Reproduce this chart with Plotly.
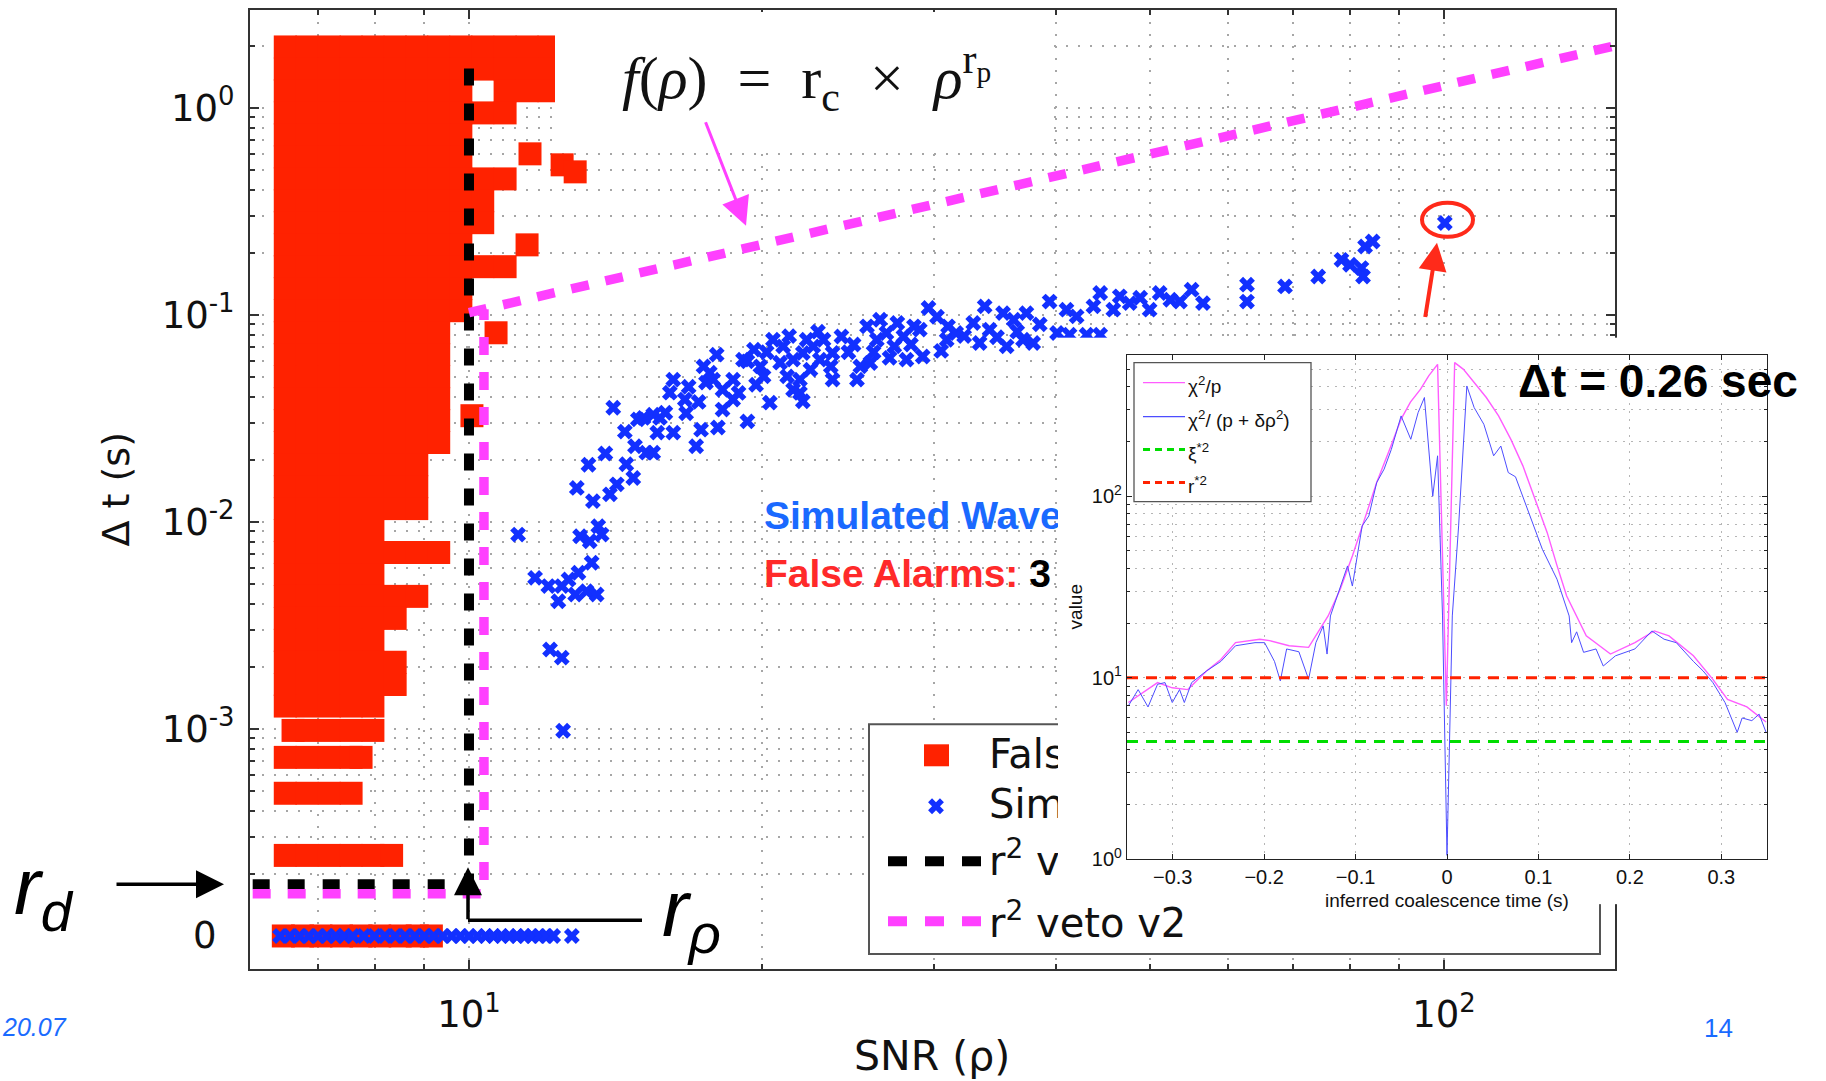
import math
import plotly.graph_objects as go

W, H = 1826, 1081
YS = 1081 / 1071   # the rendered figure comes out ~10 px shorter; stretch the layout to compensate

# ------------------------------------------------------------------ data
# False alarms (red squares): rows of the dense cloud (Δt value, list of SNR values)
FA_ROW_Y = [1.97, 1.54, 1.21, 0.946, 0.741, 0.580, 0.454, 0.356, 0.279, 0.218,
            0.171, 0.134, 0.1048, 0.0820, 0.0643, 0.0503, 0.0394, 0.0309, 0.0242,
            0.0189, 0.0148, 0.0116, 0.00909, 0.00712, 0.00557, 0.00437, 0.00342,
            0.00268, 0.00210, 0.00164, 0.00129, 0.000984, 0.000729, 0.000489, 0.000245]
FA_ROW_X = [
    [6.48, 6.82, 7.19, 7.57, 7.97, 8.40, 8.84, 9.31, 9.81, 10.33, 10.89, 11.47, 12.08],
    [6.48, 6.82, 7.19, 7.57, 7.97, 8.40, 8.84, 9.31, 9.81, 10.33, 10.89, 11.47, 12.08],
    [6.48, 6.82, 7.19, 7.57, 7.97, 8.40, 8.84, 9.31, 9.81, 10.89, 11.47, 12.08],
    [6.48, 6.82, 7.19, 7.57, 7.97, 8.40, 8.84, 9.31, 9.81, 10.33, 10.89],
    [6.48, 6.82, 7.19, 7.57, 7.97, 8.40, 8.84, 9.31, 9.81],
    [6.48, 6.82, 7.19, 7.57, 7.97, 8.40, 8.84, 9.31, 9.81],
    [6.48, 6.82, 7.19, 7.57, 7.97, 8.40, 8.84, 9.31, 9.81, 10.33, 10.89],
    [6.48, 6.82, 7.19, 7.57, 7.97, 8.40, 8.84, 9.31, 9.81, 10.33],
    [6.48, 6.82, 7.19, 7.57, 7.97, 8.40, 8.84, 9.31, 9.81, 10.33],
    [6.48, 6.82, 7.19, 7.57, 7.97, 8.40, 8.84, 9.31, 9.81, 11.47],
    [6.48, 6.82, 7.19, 7.57, 7.97, 8.40, 8.84, 9.31, 9.81, 10.33, 10.89],
    [6.48, 6.82, 7.19, 7.57, 7.97, 8.40, 8.84, 9.31, 9.81],
    [6.48, 6.82, 7.19, 7.57, 7.97, 8.40, 8.84, 9.31, 9.81],
    [6.48, 6.82, 7.19, 7.57, 7.97, 8.40, 8.84, 9.31, 10.66],
    [6.48, 6.82, 7.19, 7.57, 7.97, 8.40, 8.84, 9.31],
    [6.48, 6.82, 7.19, 7.57, 7.97, 8.40, 8.84, 9.31],
    [6.48, 6.82, 7.19, 7.57, 7.97, 8.40, 8.84, 9.31],
    [6.48, 6.82, 7.19, 7.57, 7.97, 8.40, 8.84, 9.31],
    [6.48, 6.82, 7.19, 7.57, 7.97, 8.40, 8.84, 9.31],
    [6.48, 6.82, 7.19, 7.57, 7.97, 8.40, 8.84],
    [6.48, 6.82, 7.19, 7.57, 7.97, 8.40, 8.84],
    [6.48, 6.82, 7.19, 7.57, 7.97, 8.40, 8.84],
    [6.48, 6.82, 7.19, 7.57, 7.97],
    [6.48, 6.82, 7.19, 7.57, 7.97, 8.40, 8.84, 9.31],
    [6.48, 6.82, 7.19, 7.57, 7.97],
    [6.48, 6.82, 7.19, 7.57, 7.97, 8.40, 8.84],
    [6.48, 6.82, 7.19, 7.57, 7.97, 8.40],
    [6.48, 6.82, 7.19, 7.57, 7.97],
    [6.48, 6.82, 7.19, 7.57, 7.97, 8.40],
    [6.48, 6.82, 7.19, 7.57, 7.97, 8.40],
    [6.48, 6.82, 7.19, 7.57, 7.97],
    [6.60, 6.82, 7.19, 7.57, 7.97],
    [6.48, 6.82, 7.19, 7.57, 7.75],
    [6.48, 6.82, 7.19, 7.57],
    [6.48, 6.82, 7.19, 7.57, 7.97, 8.33],
]
FA_EXTRA_X = [11.55, 12.46, 12.85, 10.07]
FA_EXTRA_Y = [0.600, 0.531, 0.491, 0.0326]
FA_ZERO_X = [6.45, 6.75, 7.05, 7.4, 7.75, 8.1, 8.5, 8.85, 9.15]

# Simulated waveforms (blue crosses)
SIM_X = [14.06, 14.45, 14.8, 15.2, 15.45, 15.1, 15.45, 15.9, 16.2, 16.07, 16.65, 16.2,
         17.1, 17.3, 18.0, 18.2, 19.3, 17.66, 17.5, 17.95, 18.66, 19.1, 18.66, 20.5,
         20.35, 20.85, 13.8, 13.26, 12.9, 13.4, 13.95, 14.18, 14.74, 11.23, 13.0, 13.3,
         13.57, 13.68, 13.36, 11.69, 12.06, 12.35, 12.65, 12.85, 12.95, 13.2, 13.52,
         12.45, 12.11, 12.45, 12.49, 20.05, 19.9, 17.4, 17.8, 19.3, 18.2, 16.7, 15.7,
         14.9, 21.85, 22.2,
         21.0, 21.5, 22.0, 22.55, 23.1, 23.6, 21.2, 21.85, 22.4, 22.9, 23.5, 23.6,
         22.0, 21.5, 24.1, 25.2, 25.0, 25.8, 25.6, 26.4, 26.2, 26.8, 27.5, 27.3, 27.9,
         28.1, 28.6, 29.2, 29.0, 29.6, 31.0, 30.9, 31.6, 32.9, 33.8, 33.4, 34.2, 35.3,
         36.2, 37.3, 35.6, 37.0, 37.9, 39.4, 41.0, 42.0, 43.7, 44.4, 40.1,
         45.8, 46.5, 47.6, 48.8, 49.9, 51.1, 52.4, 53.6, 55.1, 56.6, 41.3, 43.0, 44.4,
         62.8, 62.8, 68.7, 74.3, 78.5, 80.1, 82.3, 82.6, 83.0, 84.5, 100.2,
         19.6, 20.2, 21.3, 22.8, 24.5, 24.8, 26.0, 27.0, 28.4, 30.2, 30.5, 32.2, 34.8,
         36.5, 38.5, 16.8, 17.2, 18.9, 19.7, 15.6, 14.5]
SIM_Y = [0.0356, 0.0273, 0.0232, 0.0216, 0.0216, 0.0318, 0.033, 0.0337, 0.0487, 0.0421,
         0.039, 0.027, 0.0232, 0.0279, 0.0286, 0.0349, 0.0306, 0.0526, 0.0471, 0.0643,
         0.0487, 0.0608, 0.039, 0.0759, 0.0377, 0.0588, 0.0214, 0.0189, 0.0146, 0.0126,
         0.0136, 0.0152, 0.0163, 0.00869, 0.00853, 0.00807, 0.00953, 0.00869, 0.00635,
         0.00537, 0.0049, 0.00414, 0.00527, 0.00446, 0.00568, 0.00463, 0.00446, 0.0049,
         0.00242, 0.00221, 0.00098, 0.0505, 0.0564, 0.0564, 0.0487, 0.0597, 0.0435,
         0.0335, 0.0318, 0.0313, 0.042, 0.0759,
         0.0705, 0.0608, 0.0655, 0.0705, 0.0759, 0.0655, 0.0505, 0.0487, 0.0544, 0.0608,
         0.0564, 0.0487, 0.0383, 0.0435, 0.0787, 0.0564, 0.0487, 0.0586, 0.0881, 0.0948,
         0.0759, 0.0818, 0.0914, 0.0705, 0.0787, 0.0608, 0.0881, 0.063, 0.0849, 0.108,
         0.0881, 0.0759, 0.0818, 0.0914, 0.11, 0.0732, 0.0849, 0.102, 0.0948, 0.102,
         0.0705, 0.0759, 0.0732, 0.116, 0.106, 0.0984, 0.11, 0.1276, 0.0818,
         0.106, 0.123, 0.114, 0.121, 0.106, 0.1276, 0.1184, 0.116, 0.1324, 0.114, 0.0802,
         0.0802, 0.0802, 0.14, 0.116, 0.1373, 0.1533, 0.1846, 0.1747, 0.1684, 0.1533,
         0.214, 0.2263, 0.278,
         0.068, 0.066, 0.079, 0.083, 0.066, 0.072, 0.066, 0.062, 0.072, 0.098, 0.067,
         0.079, 0.078, 0.083, 0.09, 0.045, 0.038, 0.042, 0.046, 0.027, 0.019]
SIM_ZERO_X = [6.4, 6.55, 6.7, 6.85, 7.0, 7.15, 7.3, 7.45, 7.6, 7.8, 8.0, 8.2, 8.4, 8.6,
              8.8, 9.0, 9.2, 9.4, 9.6, 9.8, 10.0, 10.2, 10.4, 10.6, 10.8, 11.0, 11.2,
              11.4, 11.6, 11.8, 12.0, 12.2, 12.75]
ZERO_LEVEL = 1e-4          # where Δt = 0 is drawn on the log axis

# veto thresholds
RHO_LO, RHO_HI = 6.0, 150.0
R_D_V1, R_RHO_V1, V1_TOP = 1.78e-4, 10.0, 1.75
R_D_V2, R_RHO_V2 = 1.6e-4, 10.36
R_C, R_P = 0.0082, 1.097

X_TICKS = [10, 100]
X_TICKTEXT = ["10<sup>1</sup>", "10<sup>2</sup>"]
Y_TICKS = [1e-3, 1e-2, 1e-1, 1]
Y_TICKTEXT = ["10<sup>-3</sup>", "10<sup>-2</sup>", "10<sup>-1</sup>", "10<sup>0</sup>"]

# inset: statistic versus inferred coalescence time
T_PINK = [-0.3485, -0.3166, -0.3005, -0.2835, -0.263, -0.2473, -0.2313, -0.2047, -0.194,
          -0.1727, -0.1514, -0.146, -0.130, -0.1168, -0.1035, -0.09, -0.0769, -0.063,
          -0.0502, -0.04, -0.0289, -0.02, -0.0103, -0.0007, 0.0084, 0.018, 0.0297, 0.043,
          0.0564, 0.07, 0.083, 0.096, 0.1096, 0.12, 0.1309, 0.1523, 0.1788, 0.2055,
          0.2268, 0.2428, 0.2695, 0.2908, 0.3068, 0.328, 0.349]
V_PINK = [7.3, 9.4, 8.8, 8.6, 10.9, 12.6, 15.6, 16.3, 16.0, 15.0, 14.7, 16.3, 21.9, 30.7,
          46.9, 75, 119, 180, 266, 330, 389, 460, 533, 7.0, 545, 500, 423, 350, 277, 205,
          147, 97, 63, 42, 28.2, 17.0, 13.5, 15.6, 18.1, 17.0, 13.2, 9.8, 7.6, 6.9, 5.7]
T_BLUE = [-0.3485, -0.3378, -0.327, -0.3166, -0.3084, -0.3005, -0.2925, -0.2873, -0.2793,
          -0.263, -0.2473, -0.2313, -0.21, -0.1995, -0.1887, -0.1823, -0.1754, -0.162,
          -0.1514, -0.1434, -0.1354, -0.1312, -0.1275, -0.1088, -0.1035, -0.0928, -0.0855,
          -0.0769, -0.0688, -0.0609, -0.0502, -0.0396, -0.0316, -0.0247, -0.0156,
          -0.0103, -0.0049, 0.0, 0.0058, 0.0127, 0.0217, 0.0297, 0.0403, 0.051, 0.0589,
          0.067, 0.0749, 0.0883, 0.1043, 0.1203, 0.1336, 0.1363, 0.1418, 0.1494, 0.163,
          0.1709, 0.1842, 0.2055, 0.2241, 0.2374, 0.2508, 0.2695, 0.2801, 0.2908, 0.3041,
          0.3174, 0.3228, 0.3334, 0.3414, 0.349]
V_BLUE = [7.0, 8.6, 6.9, 9.2, 9.4, 7.3, 8.6, 7.3, 9.4, 10.9, 12.3, 15.0, 15.6, 15.6, 12.3,
          9.6, 14.4, 13.9, 9.8, 15.6, 19.3, 13.5, 21.9, 41.3, 32.0, 68.6, 77.9, 119, 141,
          181, 277, 206, 289, 350, 100, 167, 21.9, 1.05, 21.9, 68.6, 405, 308, 249, 167,
          189, 135, 128, 84.8, 51, 34.9, 21.9, 15.6, 17.9, 13.8, 14.4, 11.6, 13.2, 14.4,
          18.1, 16.3, 15.6, 12.3, 10.9, 9.4, 7.3, 5.0, 6.0, 5.8, 6.3, 5.0]
XI2_LEVEL = 4.45
R2_LEVEL = 10.0
INSET_T_RANGE = [-0.35, 0.35]
INSET_X_TICKS = [-0.3, -0.2, -0.1, 0, 0.1, 0.2, 0.3]
INSET_X_TICKTEXT = ["\u22120.3", "\u22120.2", "\u22120.1", "0", "0.1", "0.2", "0.3"]
INSET_Y_TICKS = [1, 10, 100]
INSET_Y_TICKTEXT = ["10<sup>0</sup>", "10<sup>1</sup>", "10<sup>2</sup>"]

# ------------------------------------------------------------------ layout geometry (pixels)
MAIN_L, MAIN_R, MAIN_T, MAIN_B = 250, 1615, 10, 970
XLOG = (0.7754, 2.1754)
YLOG = (-4.160, 0.473)
PANEL_L, PANEL_T, PANEL_B = 1058, 338, 905
IN_L, IN_R, IN_T, IN_B = 1127, 1767, 355, 860
IN_YLOG = (0.0, 2.78)

RED = "#ff2200"
BLUE = "#1230ff"
MAGENTA = "#ff40ff"
GRID = "#a6a6a6"
SANS = "DejaVu Sans"
BOLD = "Liberation Sans"


def pxx(p):
    return p / W


def pxy(p):
    return 1 - p * YS / H


def mx(p):  # pixel -> SNR value on the main axis
    return 10 ** (XLOG[0] + (p - MAIN_L) / (MAIN_R - MAIN_L) * (XLOG[1] - XLOG[0]))


def my(p):  # pixel -> Δt value on the main axis
    return 10 ** (YLOG[1] - (p - MAIN_T) / (MAIN_B - MAIN_T) * (YLOG[1] - YLOG[0]))


def minor_log(lo_exp, hi_exp, lo=None, hi=None):
    vals = []
    for e in range(lo_exp, hi_exp + 1):
        for m in range(2, 10):
            v = m * 10 ** e
            if (lo is None or v >= lo) and (hi is None or v <= hi):
                vals.append(v)
    return vals


fig = go.Figure()

# ------------------------------------------------------------------ main plot traces
fa_x = [x for row in FA_ROW_X for x in row] + FA_EXTRA_X + FA_ZERO_X
fa_y = ([y for y, row in zip(FA_ROW_Y, FA_ROW_X) for _ in row] + FA_EXTRA_Y
        + [ZERO_LEVEL] * len(FA_ZERO_X))
fig.add_trace(go.Scatter(x=fa_x, y=fa_y, mode="markers", name="False Alarms",
                         marker=dict(symbol="square", size=23, color=RED, line=dict(width=0)),
                         hoverinfo="skip"))
fig.add_trace(go.Scatter(x=SIM_X + SIM_ZERO_X, y=SIM_Y + [ZERO_LEVEL] * len(SIM_ZERO_X),
                         mode="markers", name="Simulated Waveforms",
                         marker=dict(symbol="x", size=14, color=BLUE, line=dict(width=0)),
                         hoverinfo="skip"))


def f_veto(rho):
    return R_C * rho ** R_P


fig.add_trace(go.Scatter(x=[RHO_LO, R_RHO_V1, R_RHO_V1], y=[R_D_V1, R_D_V1, V1_TOP],
                         mode="lines", name="r2 veto v1",
                         line=dict(color="black", width=10, dash="17px,18px"), hoverinfo="skip"))
fig.add_trace(go.Scatter(x=[RHO_LO, R_RHO_V2, R_RHO_V2, None, R_RHO_V1, RHO_HI],
                         y=[R_D_V2, R_D_V2, f_veto(R_RHO_V2), None, f_veto(R_RHO_V1), f_veto(RHO_HI)],
                         mode="lines", name="r2 veto v2", connectgaps=False,
                         line=dict(color=MAGENTA, width=9.5, dash="18px,17px"), hoverinfo="skip"))

# texts living inside the main plot (partly hidden by the inset panel)
fig.add_trace(go.Scatter(
    x=[mx(764), mx(764)], y=[my(520), my(578)], mode="text", textposition="middle right",
    text=["<b>Simulated Waveforms</b>",
          "<b>False Alarms: <span style='color:#000000'>3</span></b>"],
    textfont=dict(family=BOLD, size=39, color=["#1a69ff", "#ff2a2a"]),
    hoverinfo="skip"))
# main legend (glyph + labels)
fig.add_trace(go.Scatter(x=[mx(936)], y=[my(807)], mode="markers",
                         marker=dict(symbol="x", size=14, color=BLUE), hoverinfo="skip"))
fig.add_trace(go.Scatter(
    x=[mx(989)] * 4, y=[my(759), my(809), my(866), my(928)], mode="text",
    textposition="middle right",
    text=["False Alarms", "Simulated Waveforms", "r<sup>2</sup> veto v1", "r<sup>2</sup> veto v2"],
    textfont=dict(family=SANS, size=40, color="#111111"), hoverinfo="skip"))

# ------------------------------------------------------------------ white panel (cover) subplot
fig.add_trace(go.Scatter(x=[0.5], y=[0.5], xaxis="x2", yaxis="y2", mode="markers",
                         marker=dict(opacity=0), hoverinfo="skip"))

# ------------------------------------------------------------------ inset traces
fig.add_trace(go.Scatter(x=T_PINK, y=V_PINK, xaxis="x3", yaxis="y3", mode="lines",
                         line=dict(color="#ff5cff", width=1.4), hoverinfo="skip"))
fig.add_trace(go.Scatter(x=T_BLUE, y=V_BLUE, xaxis="x3", yaxis="y3", mode="lines",
                         line=dict(color="#4d4dff", width=1), hoverinfo="skip"))
fig.add_trace(go.Scatter(x=INSET_T_RANGE, y=[XI2_LEVEL] * 2, xaxis="x3", yaxis="y3",
                         mode="lines", line=dict(color="#00dd00", width=3, dash="11px,8px"),
                         hoverinfo="skip"))
fig.add_trace(go.Scatter(x=INSET_T_RANGE, y=[R2_LEVEL] * 2, xaxis="x3", yaxis="y3",
                         mode="lines", line=dict(color="#ff2200", width=3, dash="11px,8px"),
                         hoverinfo="skip"))

# ------------------------------------------------------------------ axes
grid = dict(gridcolor=GRID, griddash="2px,10px", gridwidth=1.5)
main_axis = dict(showline=True, linecolor="#333333", linewidth=2, mirror="allticks",
                 ticks="inside", ticklen=9, tickwidth=1.5, tickcolor="#333333",
                 zeroline=False, showgrid=True, **grid,
                 tickfont=dict(family=SANS, size=37, color="#111111"))
fig.update_layout(
    xaxis=dict(domain=[pxx(MAIN_L), pxx(MAIN_R)], anchor="y", type="log", range=list(XLOG),
               tickmode="array", tickvals=X_TICKS, ticktext=X_TICKTEXT, ticklabelstandoff=12,
               minor=dict(tickvals=minor_log(0, 1, lo=7, hi=90), ticks="inside", ticklen=5,
                          tickcolor="#333333", showgrid=True, **grid),
               **main_axis),
    yaxis=dict(domain=[pxy(MAIN_B), pxy(MAIN_T)], anchor="x", type="log", range=list(YLOG),
               tickmode="array", tickvals=Y_TICKS, ticktext=Y_TICKTEXT, ticklabelstandoff=6,
               minor=dict(tickvals=minor_log(-4, 0, hi=2.5), ticks="inside", ticklen=5,
                          tickcolor="#333333", showgrid=True, **grid),
               **main_axis),
    xaxis2=dict(domain=[pxx(PANEL_L), 1.0], anchor="y2", range=[0, 1], showline=False,
                showgrid=False, zeroline=False, showticklabels=False, ticks=""),
    yaxis2=dict(domain=[pxy(PANEL_B), pxy(PANEL_T)], anchor="x2", range=[0, 1], showline=False,
                showgrid=False, zeroline=False, showticklabels=False, ticks=""),
    xaxis3=dict(domain=[pxx(IN_L), pxx(IN_R)], anchor="y3", range=INSET_T_RANGE,
                tickmode="array", tickvals=INSET_X_TICKS, ticktext=INSET_X_TICKTEXT,
                showline=True, linecolor="#222222", linewidth=1.2, mirror="allticks",
                ticks="inside", ticklen=5, tickcolor="#222222", zeroline=False,
                showgrid=True, gridcolor="#b5b5b5", griddash="2px,6px", gridwidth=1,
                tickfont=dict(family="Liberation Sans", size=20, color="#111111")),
    yaxis3=dict(domain=[pxy(IN_B), pxy(IN_T)], anchor="x3", type="log", range=list(IN_YLOG),
                tickmode="array", tickvals=INSET_Y_TICKS, ticktext=INSET_Y_TICKTEXT,
                showline=True, linecolor="#222222", linewidth=1.2, mirror="allticks",
                ticks="inside", ticklen=5, tickcolor="#222222", zeroline=False,
                showgrid=True, gridcolor="#b5b5b5", griddash="2px,6px", gridwidth=1,
                minor=dict(tickvals=minor_log(0, 2, hi=600), ticks="inside", ticklen=3,
                           tickcolor="#222222", showgrid=True, gridcolor="#b5b5b5",
                           griddash="2px,6px", gridwidth=1),
                tickfont=dict(family="Liberation Sans", size=20, color="#111111")),
)

# ------------------------------------------------------------------ shapes
shapes = []
# formula background box (covers grid + squares)
shapes.append(dict(type="rect", xref="paper", yref="paper", layer="above",
                   x0=pxx(555), x1=pxx(1048), y0=pxy(145), y1=pxy(12),
                   fillcolor="white", line=dict(width=0)))
# red ellipse around the loud injection
shapes.append(dict(type="circle", xref="paper", yref="paper", layer="above",
                   x0=pxx(1422), x1=pxx(1473), y0=pxy(237), y1=pxy(203),
                   line=dict(color="#ff2a1a", width=4)))
# r_rho elbow (horizontal part)
shapes.append(dict(type="line", xref="paper", yref="paper", layer="above",
                   x0=pxx(468), x1=pxx(642), y0=pxy(921), y1=pxy(921),
                   line=dict(color="black", width=3.5)))
# main legend box and glyphs (inside the main plot, under the inset panel)
shapes.append(dict(type="rect", xref="x", yref="y", layer="between",
                   x0=mx(869), x1=mx(1600), y0=my(955), y1=my(725),
                   fillcolor="white", line=dict(color="#555555", width=2)))
shapes.append(dict(type="rect", xref="x", yref="y", layer="between",
                   x0=mx(924), x1=mx(949), y0=my(767), y1=my(745),
                   fillcolor=RED, line=dict(width=0)))
shapes.append(dict(type="line", xref="x", yref="y", layer="between",
                   x0=mx(888), x1=mx(982), y0=my(862), y1=my(862),
                   line=dict(color="black", width=10, dash="19px,18px")))
shapes.append(dict(type="line", xref="x", yref="y", layer="between",
                   x0=mx(888), x1=mx(982), y0=my(922), y1=my(922),
                   line=dict(color=MAGENTA, width=10, dash="19px,18px")))
# inset legend
shapes.append(dict(type="rect", xref="paper", yref="paper", layer="above",
                   x0=pxx(1134), x1=pxx(1311), y0=pxy(502), y1=pxy(363),
                   fillcolor="white", line=dict(color="#555555", width=1.3)))
for yy, col, dash, wd in [(383, "#ff5cff", "solid", 1.4), (417, "#4d4dff", "solid", 1.2),
                          (450, "#00dd00", "7px,5px", 3), (483, "#ff2200", "7px,5px", 3)]:
    shapes.append(dict(type="line", xref="paper", yref="paper", layer="above",
                       x0=pxx(1143), x1=pxx(1185), y0=pxy(yy), y1=pxy(yy),
                       line=dict(color=col, width=wd, dash=dash)))
fig.update_layout(shapes=shapes)

# ------------------------------------------------------------------ annotations
ann = []


def text(x, y, s, size, family=SANS, color="#111111", xanchor="center", yanchor="middle",
         angle=0, **kw):
    ann.append(dict(x=pxx(x), y=pxy(y), xref="paper", yref="paper", text=s, showarrow=False,
                    font=dict(family=family, size=size, color=color), xanchor=xanchor,
                    yanchor=yanchor, textangle=angle, **kw))


def arrow(tipx, tipy, tailx, taily, color, width, size):
    ann.append(dict(x=pxx(tipx), y=pxy(tipy), xref="paper", yref="paper", text="",
                    showarrow=True, ax=tailx - tipx, ay=(taily - tipy) * YS, axref="pixel",
                    ayref="pixel", arrowhead=2, arrowsize=size, arrowwidth=width,
                    arrowcolor=color, standoff=0))


EN = "\u2002"
text(806, 78, "<i>f</i>(<i>\u03c1</i>)" + EN + "=" + EN + "r<sub>c</sub>" + EN + "\u00d7" + EN
     + "<i>\u03c1</i><sup>r<sub>p</sub></sup>", 60, family="Liberation Serif")
arrow(746, 226, 705, 122, MAGENTA, 3, 1.9)
arrow(1437, 243, 1425, 318, "#ff2a1a", 4, 1.4)
text(12, 893, "<i>r<sub>d</sub></i>", 80, family="Liberation Sans", color="black",
     xanchor="left")
arrow(224, 885, 115, 885, "black", 3.5, 1.6)
text(660, 915, "<i>r<sub>\u03c1</sub></i>", 80, family="Liberation Sans", color="black",
     xanchor="left")
arrow(468, 868, 468, 921, "black", 3.5, 1.6)
ann.append(dict(x=pxx(219), y=math.log10(ZERO_LEVEL), xref="paper", yref="y", text="0",
                showarrow=False, xanchor="right", yanchor="middle",
                font=dict(family=SANS, size=37, color="#111111")))
text(932, 1057, "SNR (\u03c1)", 41)
text(116, 490, "\u0394 t (s)", 38, angle=-90)
text(1516, 381, "<b>\u0394t = 0.26 sec</b>", 46, family="Liberation Sans", color="black",
     xanchor="left")
text(0, 1028, "<i>20.07</i>", 25, family="Liberation Sans", color="#1a6bff", xanchor="left")
text(1718, 1029, "14", 26, family="Liberation Sans", color="#1a6bff")
text(1447, 901, "inferred coalescence time (s)", 19, family="Liberation Sans")
text(1075, 608, "value", 19, family="Liberation Sans", angle=-90)
for yy, s in [(385, "\u03c7<sup>2</sup>/p"), (419, "\u03c7<sup>2</sup>/ (p + \u03b4\u03c1<sup>2</sup>)"),
              (452, "\u03be<sup>*2</sup>"), (485, "r<sup>*2</sup>")]:
    text(1186, yy, s, 19, family="Liberation Sans", xanchor="left")
fig.update_layout(annotations=ann)

fig.update_layout(width=W, height=H, autosize=False, margin=dict(l=0, r=0, t=0, b=0, pad=0),
                  paper_bgcolor="white", plot_bgcolor="#ffffff", showlegend=False,
                  hovermode=False)

fig.write_html("out.html")
